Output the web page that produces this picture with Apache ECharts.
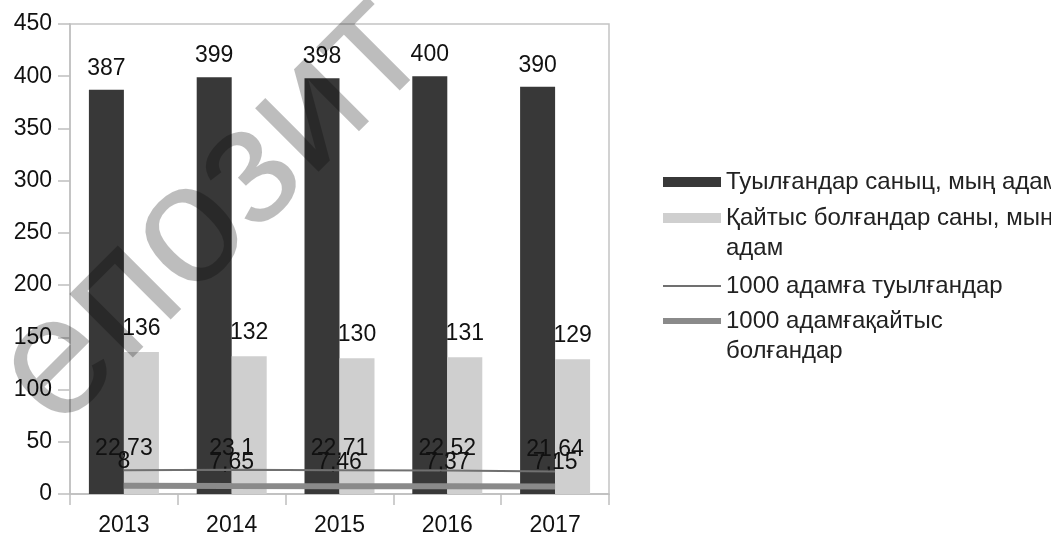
<!DOCTYPE html>
<html>
<head>
<meta charset="utf-8">
<script src="https://cdn.jsdelivr.net/npm/echarts@6/dist/echarts.min.js"></script>
<style>
html,body{margin:0;padding:0;background:#fff;}
#c{width:1051px;height:538px;}
</style>
</head>
<body>
<div id="c"></div>
<script>
const categories = ['2013', '2014', '2015', '2016', '2017'];
const births = [387, 399, 398, 400, 390];
const deaths = [136, 132, 130, 131, 129];
const birthRate = [22.73, 23.1, 22.71, 22.52, 21.64];
const deathRate = [8, 7.65, 7.46, 7.37, 7.15];
const seriesNames = [
  'Туылғандар саныц, мың адам',
  'Қайтыс болғандар саны, мың адам',
  '1000 адамға туылғандар',
  '1000 адамғақайтыс болғандар'
];
const legendLabels = [
  'Туылғандар саныц, мың адам',
  '\nҚайтыс болғандар саны, мың\nадам',
  '1000 адамға туылғандар',
  '\n1000 адамғақайтыс\nболғандар'
];
const yMin = 0, yMax = 450, yStep = 50;
const watermark = 'епозит';

const FONT = "'Liberation Sans', Arial, sans-serif";
const chart = echarts.init(document.getElementById('c'), null, {renderer: 'canvas'});
const comma = p => String(p.value).replace('.', ',');

function legendFor(i, top, iconH) {
  return {
    data: [seriesNames[i]],
    orient: 'vertical',
    left: 663,
    top: top,
    padding: 0,
    icon: 'rect',
    itemWidth: 58,
    itemHeight: iconH,
    formatter: () => legendLabels[i],
    textStyle: {fontFamily: FONT, fontSize: 24, color: '#222', lineHeight: 30}
  };
}

const option = {
  animation: false,
  textStyle: {fontFamily: FONT},
  grid: {left: 70, right: 442, top: 24, bottom: 44, show: true, borderColor: '#c4c4c4', borderWidth: 1.5},
  legend: [
    legendFor(0, 167, 10),
    legendFor(1, 173, 10),
    legendFor(2, 271, 2),
    legendFor(3, 276, 6)
  ],
  xAxis: {
    type: 'category',
    data: categories,
    boundaryGap: true,
    axisLine: {lineStyle: {color: '#bfbfbf', width: 1.5}},
    axisTick: {show: true, length: 11, lineStyle: {color: '#bfbfbf', width: 1.5}},
    axisLabel: {fontFamily: FONT, fontSize: 23, color: '#111', margin: 20}
  },
  yAxis: {
    type: 'value',
    min: yMin, max: yMax, interval: yStep,
    axisLine: {show: true, lineStyle: {color: '#bfbfbf', width: 1.5}},
    axisTick: {show: true, length: 12, lineStyle: {color: '#bfbfbf', width: 1.5}},
    splitLine: {show: false},
    axisLabel: {fontFamily: FONT, fontSize: 23, color: '#111', margin: 18}
  },
  series: [
    {
      name: seriesNames[0], type: 'bar', data: births, barWidth: 35, barGap: '0%',
      itemStyle: {color: '#383838'},
      label: {show: true, position: 'top', distance: 10, fontFamily: FONT, fontSize: 23, color: '#111'}
    },
    {
      name: seriesNames[1], type: 'bar', data: deaths, barWidth: 35,
      itemStyle: {color: '#cfcfcf'},
      label: {show: true, position: 'top', distance: 12, fontFamily: FONT, fontSize: 23, color: '#111'}
    },
    {
      name: seriesNames[2], type: 'line', data: birthRate,
      symbol: 'circle', symbolSize: 0.01, showSymbol: true,
      lineStyle: {color: '#707070', width: 2}, itemStyle: {color: '#707070'},
      label: {show: true, position: 'top', distance: 10, fontFamily: FONT, fontSize: 23, color: '#111', formatter: comma},
      z: 5
    },
    {
      name: seriesNames[3], type: 'line', data: deathRate,
      symbol: 'circle', symbolSize: 0.01, showSymbol: true,
      lineStyle: {color: '#8a8a8a', width: 6}, itemStyle: {color: '#8a8a8a'},
      label: {show: true, position: 'top', distance: 12, fontFamily: FONT, fontSize: 23, color: '#111', formatter: comma},
      z: 4
    }
  ],
  graphic: [{
    type: 'text',
    x: 212, y: 212,
    rotation: Math.PI / 4,
    z: 100,
    silent: true,
    style: {
      text: watermark,
      x: 0, y: 0,
      align: 'center', verticalAlign: 'middle',
      font: "170px 'Liberation Sans', Arial, sans-serif",
      fill: 'rgba(0,0,0,0.26)'
    }
  }]
};
chart.setOption(option);
</script>
</body>
</html>
